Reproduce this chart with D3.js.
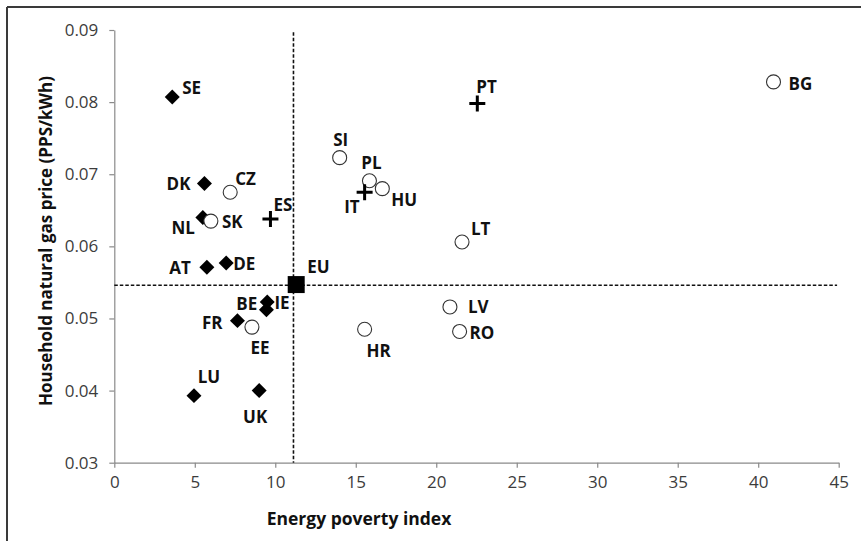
<!DOCTYPE html>
<html>
<head>
<meta charset="utf-8">
<script src="https://cdn.jsdelivr.net/npm/d3@7"></script>
<style>
  html, body { margin: 0; padding: 0; background: #fff; }
  svg { display: block; }
</style>
</head>
<body>
<svg id="chart" width="861" height="541"></svg>
<script>
// ---- data ----
const countries = ["SE","DK","CZ","NL","SK","ES","SI","PL","HU","IT","AT","DE","EU","BE","IE","FR","EE","HR","LU","UK","PT","BG","LT","LV","RO"];
const povertyIndex = [3.6, 5.6, 7.2, 5.5, 6.0, 9.7, 14.0, 15.85, 16.65, 15.55, 5.75, 6.95, 11.3, 9.5, 9.45, 7.65, 8.55, 15.55, 4.95, 9.0, 22.55, 40.95, 21.6, 20.85, 21.45];
const gasPrice = [0.0807, 0.0687, 0.0675, 0.0640, 0.0635, 0.0638, 0.0723, 0.0691, 0.0680, 0.0675, 0.0571, 0.0577, 0.0547, 0.0523, 0.0512, 0.0497, 0.0488, 0.0485, 0.0393, 0.0400, 0.0798, 0.0828, 0.0606, 0.0516, 0.0482];
const groups = ["diamond","diamond","circle","diamond","circle","cross","circle","circle","circle","cross","diamond","diamond","square","diamond","diamond","diamond","circle","circle","diamond","diamond","cross","circle","circle","circle","circle"];
const xTicks = [0, 5, 10, 15, 20, 25, 30, 35, 40, 45];
const yTicks = [0.03, 0.04, 0.05, 0.06, 0.07, 0.08, 0.09];
const avgIndex = 11.13;
const avgPrice = 0.0546;
const xTitle = "Energy poverty index";
const yTitle = "Household natural gas price (PPS/kWh)";

// ---- label layout (anchor, dx, dy relative to marker centre) ----
const labelLayout = {
  SE:["start",10,-10], DK:["end",-14,0], CZ:["start",5,-14], NL:["end",-8,10],
  SK:["start",11,0], ES:["start",3,-14], SI:["middle",1,-18], PL:["middle",2,-18],
  HU:["start",9,11], IT:["end",-5,14], AT:["end",-16,0], DE:["start",7,1],
  EU:["start",11,-18], BE:["end",-10,2], IE:["start",8,-7], FR:["end",-15,2],
  EE:["middle",8,20], HR:["middle",14,21], LU:["middle",15,-19], UK:["middle",-4,26],
  PT:["start",-1,-17], BG:["start",15,2], LT:["start",9,-14], LV:["start",18,0],
  RO:["start",10,1]
};

const FONT = "'Open Sans', 'DejaVu Sans', sans-serif";
const svg = d3.select("#chart");

// outer frame (top and left edges visible)
svg.append("line").attr("x1",7).attr("x2",861).attr("y1",7).attr("y2",7)
  .attr("stroke","#3a3a3a").attr("stroke-width",2);
svg.append("line").attr("x1",7).attr("x2",7).attr("y1",7).attr("y2",541)
  .attr("stroke","#3a3a3a").attr("stroke-width",2);

const x = d3.scaleLinear().domain([0,45]).range([114.3, 838.7]);
const y = d3.scaleLinear().domain([0.03,0.09]).range([462.7, 30]);

// axes
const xAxis = d3.axisBottom(x).tickValues(xTicks).tickFormat(d3.format("d")).tickSize(5).tickSizeOuter(0).tickPadding(8);
const yAxis = d3.axisLeft(y).tickValues(yTicks).tickFormat(d3.format(".2f")).tickSize(5).tickSizeOuter(0).tickPadding(11);

const gx = svg.append("g").attr("transform",`translate(0,${y(0.03)})`).call(xAxis);
const gy = svg.append("g").attr("transform",`translate(${x(0)},0)`).call(yAxis);
[gx, gy].forEach(g => {
  g.select(".domain").attr("stroke","#8a8a8a").attr("stroke-width",1.2);
  g.selectAll(".tick line").attr("stroke","#8a8a8a").attr("stroke-width",1.2);
  g.selectAll(".tick text").attr("fill","#3c3c3c").style("font-family",FONT).style("font-size","17px");
});

// reference dashed lines
svg.append("line")
  .attr("x1",x(avgIndex)).attr("x2",x(avgIndex)).attr("y1",y(0.0897)).attr("y2",y(0.03))
  .attr("stroke","#111").attr("stroke-width",1.6).attr("stroke-dasharray","3.5,2");
svg.append("line")
  .attr("x1",x(0)).attr("x2",x(44.9)).attr("y1",y(avgPrice)).attr("y2",y(avgPrice))
  .attr("stroke","#111").attr("stroke-width",1.6).attr("stroke-dasharray","3.5,2");

// axis titles
svg.append("text").attr("x",359).attr("y",525).attr("text-anchor","middle")
  .style("font-family",FONT).style("font-size","17.5px").style("font-weight","bold")
  .attr("fill","#111").text(xTitle);
svg.append("text").attr("transform","translate(52,241) rotate(-90)").attr("text-anchor","middle")
  .style("font-family",FONT).style("font-size","17px").style("font-weight","bold")
  .attr("fill","#111").text(yTitle);

// points
const data = countries.map((c,i) => ({c, xv: povertyIndex[i], yv: gasPrice[i], g: groups[i]}));
const marks = svg.append("g");
data.forEach(d => {
  const px = x(d.xv), py = y(d.yv);
  if (d.g === "circle") {
    marks.append("circle").attr("cx",px).attr("cy",py).attr("r",7)
      .attr("fill","#fff").attr("stroke","#333").attr("stroke-width",1.1);
  } else if (d.g === "diamond") {
    marks.append("path").attr("d", d3.symbol(d3.symbolSquare, 112)())
      .attr("transform",`translate(${px},${py}) rotate(45)`).attr("fill","#000");
  } else if (d.g === "square") {
    marks.append("path").attr("d", d3.symbol(d3.symbolSquare, 289)())
      .attr("transform",`translate(${px},${py})`).attr("fill","#000");
  } else if (d.g === "cross") {
    const s = 8;
    marks.append("path").attr("d",`M${px-s},${py}H${px+s}M${px},${py-s}V${py+s}`)
      .attr("stroke","#000").attr("stroke-width",3).attr("fill","none");
  }
});

// labels
data.forEach(d => {
  const L = labelLayout[d.c];
  svg.append("text").attr("x", x(d.xv) + L[1]).attr("y", y(d.yv) + L[2])
    .attr("text-anchor", L[0]).attr("dominant-baseline","central")
    .style("font-family",FONT).style("font-size","17px").style("font-weight","bold")
    .attr("fill","#111").text(d.c);
});
</script>
</body>
</html>
